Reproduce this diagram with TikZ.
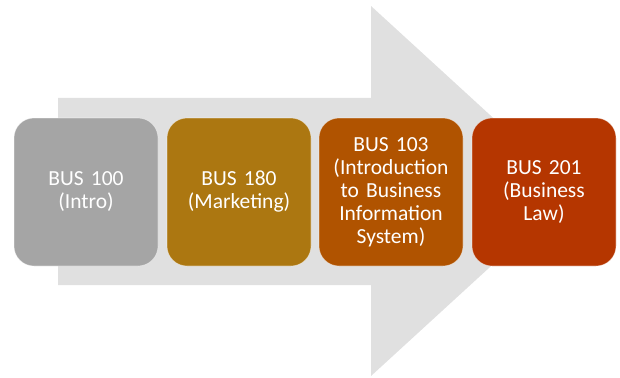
\documentclass[tikz,border=0pt]{standalone}
\usepackage{fontspec}
\setmainfont{Carlito}

\definecolor{arrowgray}{HTML}{E0E0E0}
\definecolor{introgray}{HTML}{A5A5A5}
\definecolor{mktgold}{HTML}{AC7711}
\definecolor{infobrown}{HTML}{B05300}
\definecolor{lawred}{HTML}{B53600}

\begin{document}
\begin{tikzpicture}
            [x=1pt, y=-1pt,
             course/.style={shape=rectangle, rounded corners=20pt, minimum width=144pt,
                            minimum height=148pt, text width=136pt, align=center,
                            text=white, draw=white, draw opacity=.5, line width=.6pt,
                            font=\fontsize{21.5}{23}\selectfont}]
            \useasboundingbox (0,0) rectangle (620,377);

            % big background arrow
            \fill[arrowgray] (58,98) -- (371,98) -- (371,6) -- (573,191)
                -- (371,376) -- (371,285) -- (58,285) -- cycle;

            \node[course, fill=introgray] (bus100) at (86,192) {BUS 100\\(Intro)};
            \node[course, fill=mktgold] (bus180) at (239,192) {BUS 180\\(Marketing)};
            \node[course, fill=infobrown] (bus103) at (391,192) {BUS 103\\(Introduction\\to Business\\Information\\System)};
            \node[course, fill=lawred] (bus201) at (544,192) {BUS 201\\(Business\\Law)};
        \end{tikzpicture}
\end{document}
